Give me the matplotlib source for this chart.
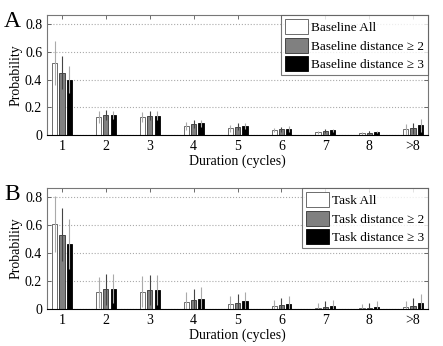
import numpy as np
import matplotlib
matplotlib.use("Agg")
import matplotlib.pyplot as plt

plt.rcParams['font.family'] = ['Liberation Serif', 'DejaVu Serif']
plt.rcParams['font.size'] = 8

durations = ['1', '2', '3', '4', '5', '6', '7', '8', '>8']

# Panel A - baseline
base_all = [0.52, 0.13, 0.13, 0.065, 0.05, 0.035, 0.02, 0.012, 0.04]
base_d2 = [0.45, 0.145, 0.14, 0.08, 0.06, 0.04, 0.027, 0.018, 0.05]
base_d3 = [0.40, 0.145, 0.14, 0.085, 0.065, 0.045, 0.033, 0.022, 0.07]
base_all_err = [0.16, 0.04, 0.035, 0.03, 0.025, 0.015, 0.012, 0.01, 0.04]
base_d2_err = [0.12, 0.035, 0.03, 0.03, 0.025, 0.02, 0.015, 0.01, 0.04]
base_d3_err = [0.10, 0.03, 0.03, 0.025, 0.025, 0.02, 0.012, 0.01, 0.045]

# Panel B - task
task_all = [0.61, 0.12, 0.125, 0.05, 0.035, 0.02, 0.01, 0.005, 0.015]
task_d2 = [0.53, 0.14, 0.135, 0.065, 0.045, 0.028, 0.015, 0.008, 0.025]
task_d3 = [0.465, 0.145, 0.135, 0.075, 0.055, 0.035, 0.022, 0.015, 0.04]
task_all_err = [0.20, 0.11, 0.11, 0.07, 0.06, 0.045, 0.035, 0.03, 0.045]
task_d2_err = [0.19, 0.11, 0.105, 0.075, 0.065, 0.05, 0.04, 0.035, 0.055]
task_d3_err = [0.18, 0.105, 0.105, 0.08, 0.065, 0.055, 0.045, 0.04, 0.07]


def draw_panel(ax, series, errs, labels):
    x = np.arange(1, len(durations) + 1)
    w = 0.12
    offs = [-0.165, 0.0, 0.17]
    faces = ['white', '#808080', 'black']
    edges = ['#555555', '#333333', 'black']
    ecols = ['#aaaaaa', '#444444', '#aaaaaa']
    for vals, err, off, fc, ec, erc, lab in zip(series, errs, offs, faces, edges, ecols, labels):
        ax.bar(x + off, vals, width=w, color=fc, edgecolor=ec, linewidth=0.6, label=lab, zorder=2)
        ax.errorbar(x + off, vals, yerr=err, fmt='none', ecolor=erc, elinewidth=0.8,
                    capsize=0, zorder=3)
    ax.set_xlim(0.66, 9.34)
    ax.set_ylim(0, 0.865)
    ax.set_xticks(x)
    ax.set_xticklabels(durations)
    ax.set_yticks([0, 0.2, 0.4, 0.6, 0.8])
    ax.set_yticklabels(['0', '0.2', '0.4', '0.6', '0.8'])
    ax.yaxis.grid(True, linestyle=':', color='#aaaaaa', linewidth=0.8, zorder=0)
    ax.set_axisbelow(True)
    ax.tick_params(direction='in', top=True, right=True, length=3, width=0.6,
                   colors='#555555', labelcolor='black', labelsize=10)
    for s in ax.spines.values():
        s.set_color('#777777')
        s.set_linewidth(0.8)
    ax.spines['bottom'].set_color('black')
    ax.set_xlabel('Duration (cycles)', fontsize=10, labelpad=1)
    ax.set_ylabel('Probability', fontsize=10, labelpad=2)
    leg = ax.legend(loc='upper right', fontsize=9.5, handlelength=1.75, handleheight=1.35,
                    handletextpad=0.2, borderpad=0.3, labelspacing=0.3,
                    fancybox=False, borderaxespad=0.0)
    leg.get_frame().set_edgecolor('#555555')
    leg.get_frame().set_linewidth(0.8)


fig = plt.figure(figsize=(4.43, 3.46), dpi=100)
ax1 = fig.add_axes([47 / 443, 1 - 135 / 346, 381 / 443, 120 / 346])
ax2 = fig.add_axes([47 / 443, 1 - 309 / 346, 381 / 443, 121 / 346])

draw_panel(ax1, [base_all, base_d2, base_d3], [base_all_err, base_d2_err, base_d3_err],
           ['Baseline All', 'Baseline distance \u2265 2', 'Baseline distance \u2265 3'])
draw_panel(ax2, [task_all, task_d2, task_d3], [task_all_err, task_d2_err, task_d3_err],
           ['Task All', 'Task distance \u2265 2', 'Task distance \u2265 3'])

fig.text(4 / 443, 1 - 27 / 346, 'A', fontsize=17)
fig.text(4 / 443, 1 - 200 / 346, 'B', fontsize=17)

fig.savefig('out.png', dpi=100)
